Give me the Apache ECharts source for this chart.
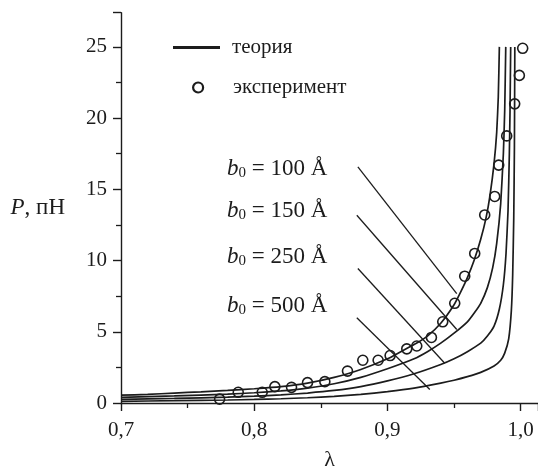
<!DOCTYPE html>
<html>
<head>
<meta charset="utf-8">
<script src="https://cdn.jsdelivr.net/npm/echarts@6/dist/echarts.min.js"></script>
<style>
html,body{margin:0;padding:0;background:#fff;}
#c{width:538px;height:476px;}
</style>
</head>
<body>
<div id="c"></div>
<script>
// Theory curves: lambda values and P (pN) for each b0
var c100X = [0.70,0.72,0.74,0.76,0.78,0.80,0.82,0.84,0.86,0.88,0.90,0.91,0.92,0.93,0.94,0.95,0.955,0.96,0.965,0.97,0.974,0.977,0.98,0.982,0.9832,0.984];
var c100P = [0.55,0.6,0.7,0.78,0.88,1.0,1.15,1.4,1.8,2.35,3.1,3.6,4.1,4.7,5.6,6.9,7.8,8.8,10.0,11.5,13.0,14.6,16.8,19.0,21.5,25.0];
var c150X = [0.70,0.74,0.78,0.80,0.82,0.84,0.86,0.88,0.90,0.92,0.93,0.94,0.95,0.96,0.965,0.97,0.975,0.979,0.982,0.985,0.987,0.988,0.9888];
var c150P = [0.4,0.5,0.62,0.72,0.85,1.05,1.35,1.8,2.4,3.1,3.6,4.2,4.9,5.7,6.3,7.0,8.1,9.5,11.2,14.0,17.5,20.5,25.0];
var c250X = [0.70,0.74,0.78,0.80,0.82,0.84,0.86,0.88,0.90,0.92,0.94,0.95,0.96,0.97,0.975,0.98,0.984,0.987,0.989,0.9905,0.9915,0.992,0.9925];
var c250P = [0.25,0.32,0.41,0.48,0.57,0.7,0.88,1.15,1.55,2.05,2.7,3.1,3.6,4.2,4.7,5.4,6.6,8.3,10.5,13.5,17.5,20.5,25.0];
var c500X = [0.70,0.74,0.78,0.80,0.82,0.84,0.86,0.88,0.90,0.92,0.94,0.95,0.96,0.97,0.98,0.985,0.988,0.991,0.993,0.994,0.9948,0.9953,0.9956];
var c500P = [0.12,0.16,0.21,0.25,0.3,0.37,0.47,0.6,0.8,1.05,1.4,1.6,1.85,2.15,2.6,3.0,3.5,4.5,6.5,9.0,13.0,18.0,25.0];

// Experimental points
var expX = [0.774,0.788,0.806,0.8155,0.828,0.840,0.853,0.870,0.8815,0.893,0.902,0.9145,0.922,0.933,0.9415,0.9505,0.958,0.9655,0.973,0.9805,0.9835,0.9895,0.9955,0.999,1.0015];
var expP = [0.27,0.75,0.75,1.15,1.1,1.43,1.5,2.24,3.0,3.0,3.33,3.8,4.0,4.6,5.7,7.0,8.9,10.5,13.2,14.5,16.7,18.75,21.0,23.0,24.9];

// Annotation labels and leader lines (data coordinates)
var b0Labels = ['100', '150', '250', '500'];
var leaderStartX = [0.8778, 0.877, 0.8778, 0.877];
var leaderStartP = [16.58, 13.18, 9.44, 5.98];
var leaderEndX = [0.952, 0.952, 0.943, 0.9318];
var leaderEndP = [7.68, 5.16, 2.79, 0.95];

var xTicks = [0.7, 0.8, 0.9, 1.0];
var yTicks = [0, 5, 10, 15, 20, 25];

function pairs(xs, ys) { return xs.map(function (x, i) { return [x, ys[i]]; }); }

var ink = '#1c1c1c';
var font = '"Liberation Serif", "DejaVu Serif", serif';

var curveSets = [[c100X, c100P], [c150X, c150P], [c250X, c250P], [c500X, c500P]];
var series = [];
curveSets.forEach(function (cs) {
  series.push({
    name: 'теория', type: 'line', data: pairs(cs[0], cs[1]),
    symbol: 'none', showSymbol: false, smooth: 0.15,
    lineStyle: { color: ink, width: 1.7 }, itemStyle: { color: ink },
    z: 3, silent: true
  });
});
for (var i = 0; i < leaderStartX.length; i++) {
  series.push({
    name: 'leader' + i, type: 'line',
    data: [[leaderStartX[i], leaderStartP[i]], [leaderEndX[i], leaderEndP[i]]],
    symbol: 'none', showSymbol: false,
    lineStyle: { color: ink, width: 1.3 }, z: 2, silent: true
  });
}
series.push({
  name: 'эксперимент', type: 'scatter', data: pairs(expX, expP),
  symbol: 'circle', symbolSize: 10,
  itemStyle: { color: 'rgba(255,255,255,0)', borderColor: ink, borderWidth: 1.6, opacity: 1 },
  z: 4, silent: true
});

var annTops = [157, 199, 245, 294];
var graphics = b0Labels.map(function (v, i) {
  return {
    type: 'text', left: 227, top: annTops[i],
    style: {
      text: '{i|b}{s|0}{n| = ' + v + ' Å}',
      rich: {
        i: { fontFamily: font, fontStyle: 'italic', fontSize: 23, fill: ink },
        s: { fontFamily: font, fontSize: 15, fill: ink, padding: [9, 0, 0, 0] },
        n: { fontFamily: font, fontSize: 23, fill: ink }
      }
    }
  };
});

var chart = echarts.init(document.getElementById('c'), null, { renderer: 'canvas' });
chart.setOption({
  backgroundColor: '#fff',
  animation: false,
  grid: { left: 121, right: 0, top: 12.7, bottom: 60, containLabel: false },
  legend: [
    {
      data: [{ name: 'теория', icon: 'rect', itemStyle: { color: ink } }],
      left: 168, top: 32, itemWidth: 47, itemHeight: 3,
      textStyle: { fontFamily: font, fontSize: 21, color: ink, padding: [0, 0, 0, 7] },
      selectedMode: false
    },
    {
      data: [{ name: 'эксперимент', icon: 'circle',
               itemStyle: { color: 'rgba(255,255,255,0)', borderColor: ink, borderWidth: 2.2 } }],
      left: 187, top: 72, itemWidth: 10, itemHeight: 10,
      textStyle: { fontFamily: font, fontSize: 21, color: ink, padding: [0, 0, 0, 25] },
      selectedMode: false
    }
  ],
  xAxis: {
    type: 'value', min: 0.7, max: 1.013, interval: 0.1, offset: 4,
    name: 'λ', nameLocation: 'middle', nameGap: 42,
    nameTextStyle: { fontFamily: font, fontSize: 22, color: ink },
    axisLine: { show: true, lineStyle: { color: ink, width: 1.4 } },
    axisTick: { show: true, inside: false, length: 8, lineStyle: { color: ink, width: 1.4 } },
    minorTick: { show: true, splitNumber: 2, length: 5, lineStyle: { color: ink, width: 1.3 } },
    splitLine: { show: false },
    axisLabel: {
      fontFamily: font, fontSize: 21, color: ink, margin: 13, showMaxLabel: false,
      formatter: function (v) { return v.toFixed(1).replace('.', ','); }
    }
  },
  yAxis: {
    type: 'value', min: 0, max: 27.4, interval: 5,
    name: '{i|P}{n|, пН}', nameLocation: 'middle', nameRotate: 0, nameGap: 56,
    nameTextStyle: {
      rich: {
        i: { fontFamily: font, fontStyle: 'italic', fontSize: 23, color: ink },
        n: { fontFamily: font, fontSize: 23, color: ink }
      }
    },
    axisLine: { show: true, onZero: false, lineStyle: { color: ink, width: 1.4 } },
    axisTick: { show: true, inside: false, length: 8, lineStyle: { color: ink, width: 1.4 } },
    minorTick: { show: true, splitNumber: 2, length: 5, lineStyle: { color: ink, width: 1.3 } },
    splitLine: { show: false },
    axisLabel: { fontFamily: font, fontSize: 21, color: ink, margin: 14, showMaxLabel: false }
  },
  graphic: graphics,
  series: series
});
</script>
</body>
</html>
